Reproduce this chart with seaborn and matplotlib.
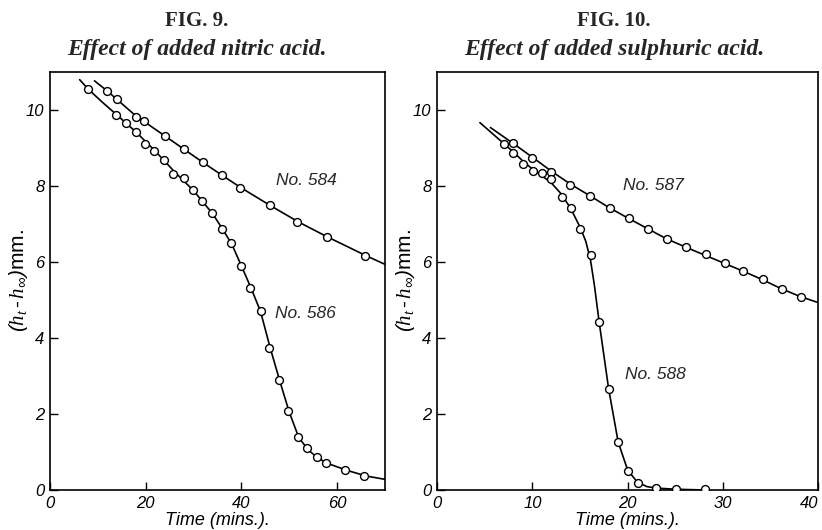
import numpy as np
import pandas as pd
import matplotlib
matplotlib.use("Agg")
import matplotlib.pyplot as plt
import seaborn as sns

# ---------------- data ----------------
# Fig. 9, No. 584 observations
t584 = [12.0, 14.0, 17.9, 19.7, 24.0, 28.0, 32.0, 36.0, 39.8, 45.9, 51.6, 57.8, 65.8]
h584 = [10.51, 10.29, 9.83, 9.71, 9.32, 8.97, 8.62, 8.28, 7.95, 7.50, 7.06, 6.67, 6.17]
# Fig. 9, No. 586 observations
t586 = [8.0, 13.9, 15.9, 18.0, 19.9, 21.8, 23.9, 25.8, 28.0, 29.9, 31.8, 33.8, 35.9,
        37.9, 39.9, 41.9, 44.0, 45.8, 47.8, 49.8, 51.8, 53.7, 55.7, 57.7, 61.6, 65.6]
h586 = [10.55, 9.87, 9.66, 9.41, 9.10, 8.93, 8.69, 8.33, 8.22, 7.90, 7.61, 7.28, 6.88,
        6.49, 5.89, 5.32, 4.71, 3.74, 2.90, 2.07, 1.39, 1.10, 0.88, 0.72, 0.53, 0.37]
# smooth curves drawn through them
c584_t = [9.3, 12, 14, 18, 20, 24, 28, 32, 36, 40, 46, 52, 58, 66, 70]
c584_h = [10.77, 10.50, 10.28, 9.84, 9.67, 9.32, 8.97, 8.62, 8.28, 7.95, 7.49, 7.05, 6.66, 6.17, 5.94]
c586_t = [6.2, 8, 11, 14, 18, 22, 26, 30, 34, 36, 38, 40, 42, 44, 46, 48, 50, 52, 54, 56, 58, 62, 66, 70]
c586_h = [10.80, 10.55, 10.20, 9.87, 9.42, 8.92, 8.38, 7.88, 7.27, 6.88, 6.47, 5.90, 5.32, 4.70,
          3.75, 2.88, 2.05, 1.38, 1.05, 0.84, 0.70, 0.52, 0.37, 0.28]

# Fig. 10, No. 587 observations
t587 = [8.0, 10.0, 12.0, 14.0, 16.05, 18.1, 20.1, 22.1, 24.1, 26.1, 28.2, 30.2, 32.1, 34.2, 36.2, 38.2]
h587 = [9.13, 8.75, 8.37, 8.04, 7.75, 7.43, 7.16, 6.88, 6.61, 6.39, 6.20, 5.98, 5.76, 5.56, 5.29, 5.09]
# Fig. 10, No. 588 observations
t588 = [7.0, 8.0, 9.0, 10.1, 11.0, 12.0, 13.1, 14.1, 15.0, 16.1, 17.0, 18.0, 19.0, 20.0,
        21.1, 23.0, 25.1, 28.1]
h588 = [9.10, 8.88, 8.58, 8.40, 8.35, 8.18, 7.71, 7.41, 6.87, 6.18, 4.43, 2.66, 1.26, 0.50,
        0.19, 0.04, 0.03, 0.02]
c587_t = [5.6, 8, 10, 12, 14, 16, 18, 20, 22, 24, 26, 28, 30, 32, 34, 36, 38, 40]
c587_h = [9.54, 9.12, 8.76, 8.39, 8.05, 7.75, 7.44, 7.16, 6.89, 6.62, 6.40, 6.19, 5.98, 5.77,
          5.55, 5.31, 5.10, 4.93]
c588_t = [4.5, 7, 8, 9, 10, 11, 12, 13, 14, 15, 15.6, 16.1, 16.5, 17.0, 18.0, 19.0, 20.0,
          21.0, 22.0, 23.0, 25.0, 28.0]
c588_h = [9.67, 9.12, 8.90, 8.66, 8.45, 8.27, 8.08, 7.80, 7.42, 6.92, 6.55, 6.05, 5.40, 4.43,
          2.66, 1.26, 0.52, 0.21, 0.09, 0.05, 0.02, 0.0]

fig9_xticks = [0, 20, 40, 60]
fig10_xticks = [0, 10, 20, 30, 40]
yticks = [0, 2, 4, 6, 8, 10]

titles = ["FIG. 9.", "FIG. 10."]
subtitles = ["Effect of added nitric acid.", "Effect of added sulphuric acid."]
ylab = r"$(h_t\,$-$\,h_\infty)$mm."
xlab = "Time (mins.)."

# ---------------- drawing ----------------
sns.set_theme(style="ticks")
plt.rcParams["font.family"] = ["Liberation Sans", "DejaVu Sans"]
plt.rcParams["mathtext.fontset"] = "custom"
plt.rcParams["mathtext.it"] = "Liberation Serif:italic"
plt.rcParams["mathtext.rm"] = "Liberation Sans:italic"

fig = plt.figure(figsize=(8.22, 5.30), dpi=100)
ax1 = fig.add_axes([0.0608, 0.0755, 0.4075, 0.7885])
ax2 = fig.add_axes([0.5316, 0.0755, 0.4641, 0.7885])

def draw(ax, ct, ch, t, h):
    sns.lineplot(x=ct, y=ch, ax=ax, color="black", linewidth=1.2, sort=False,
                 estimator=None, zorder=2)
    sns.scatterplot(x=t, y=h, ax=ax, marker="o", s=32, facecolor="white",
                    edgecolor="black", linewidth=1.0, zorder=3)

draw(ax1, c584_t, c584_h, t584, h584)
draw(ax1, c586_t, c586_h, t586, h586)
draw(ax2, c587_t, c587_h, t587, h587)
draw(ax2, c588_t, c588_h, t588, h588)

ax1.set_xlim(0, 70)
ax2.set_xlim(0, 40)
ax1.set_xticks(fig9_xticks)
ax2.set_xticks(fig10_xticks)

for ax in (ax1, ax2):
    ax.set_ylim(0, 11)
    ax.set_yticks(yticks)
    for s in ax.spines.values():
        s.set_visible(True)
        s.set_color("black")
        s.set_linewidth(1.2)
    ax.tick_params(direction="in", length=6, width=1.0, colors="black",
                   labelsize=12, pad=4)
    for lab in ax.get_xticklabels() + ax.get_yticklabels():
        lab.set_fontstyle("italic")
    ax.set_xlabel(xlab, fontsize=13, fontstyle="italic", labelpad=1, color="black")
    ax.set_ylabel(ylab, fontsize=15, labelpad=-3, color="black")
    ax.grid(False)

# keep the last "40" inside the figure
ax2.get_xticklabels()[-1].set_horizontalalignment("right")

ax1.text(47.2, 8.15, "No. 584", fontsize=12.5, fontstyle="italic", va="center")
ax1.text(47.1, 4.64, "No. 586", fontsize=12.5, fontstyle="italic", va="center")
ax2.text(19.5, 8.02, "No. 587", fontsize=12.5, fontstyle="italic", va="center")
ax2.text(19.7, 3.05, "No. 588", fontsize=12.5, fontstyle="italic", va="center")

for cx, ti, st in [(197 / 822, titles[0], subtitles[0]), (614 / 822, titles[1], subtitles[1])]:
    fig.text(cx, 1 - 21 / 530, ti, ha="center", va="center", fontsize=15,
             fontweight="bold", family=["Liberation Serif", "DejaVu Serif"])
    fig.text(cx, 1 - 50 / 530, st, ha="center", va="center", fontsize=17,
             fontstyle="italic", fontweight="bold",
             family=["Liberation Serif", "DejaVu Serif"])

fig.savefig("out.png", dpi=100)
